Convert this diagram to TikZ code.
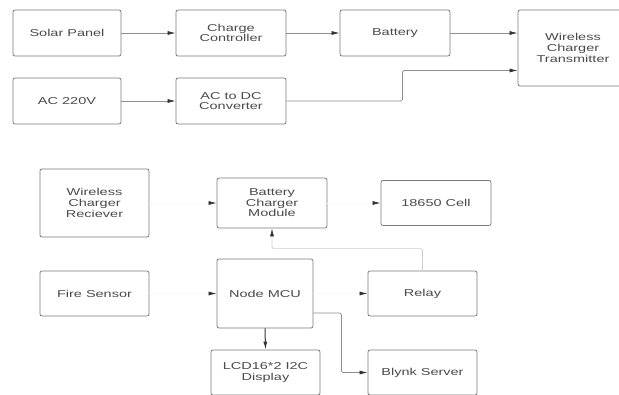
\documentclass[tikz,border=0pt]{standalone}
\usepackage{fontspec}
\setmainfont[FakeStretch=1.45]{Liberation Sans}
\usetikzlibrary{arrows.meta}
\definecolor{txt}{HTML}{4A4A4A}
\definecolor{tip}{HTML}{333333}
\definecolor{edge}{HTML}{7A7A7A}
\begin{document}
\begin{tikzpicture}[x=1pt,y=-1pt,
  blk/.style={draw=edge, line width=0.8pt, rounded corners=2pt, fill=white, text=txt, align=center, font=\fontsize{10}{10.6}\selectfont, inner sep=0pt},
  con/.style={draw=edge!85, line width=0.7pt, -{Latex[length=8pt,width=4pt,color=tip]}, rounded corners=1.5pt},
  faint/.style={con, draw=gray!5},
]
\useasboundingbox (0,0) rectangle (619,394);
\clip (0,0) rectangle (619,394);
% top
\node[blk, minimum width=108pt, minimum height=46pt] (sp) at (67,33) {Solar Panel};
\node[blk, minimum width=110pt, minimum height=46pt] (cc) at (231,33) {Charge\\Controller};
\node[blk, minimum width=110pt, minimum height=46pt] (bat) at (395,33) {Battery};
\node[blk, minimum width=110pt, minimum height=76pt] (wct) at (573,48) {Wireless\\Charger\\Transmitter};
\node[blk, minimum width=108pt, minimum height=46pt] (ac) at (67,101) {AC 220V};
\node[blk, minimum width=110pt, minimum height=46pt] (acdc) at (231,101) {AC to DC\\Converter};
% bottom
\node[blk, minimum width=109pt, minimum height=68pt] (wcr) at (94.5,203) {Wireless\\Charger\\Reciever};
\node[blk, minimum width=110pt, minimum height=50pt] (bcm) at (272,203) {Battery\\Charger\\Module};
\node[blk, minimum width=110pt, minimum height=45pt] (cell) at (436,203) {18650 Cell};
\node[blk, minimum width=109pt, minimum height=45pt] (fs) at (94.5,293.5) {Fire Sensor};
\node[blk, minimum width=96pt, minimum height=69pt] (mcu) at (265,293.5) {Node MCU};
\node[blk, minimum width=109pt, minimum height=45pt] (relay) at (422.5,293.5) {Relay};
\node[blk, minimum width=109pt, minimum height=45pt] (lcd) at (265.5,372.5) {LCD16*2 I2C\\Display};
\node[blk, minimum width=109pt, minimum height=45pt] (blynk) at (422.5,372.5) {Blynk Server};
% connectors top
\draw[con] (sp.east) -- (cc.west);
\draw[con] (cc.east) -- (bat.west);
\draw[con] (bat.east) -- (bat.east -| wct.west);
\draw[con] (ac.east) -- (acdc.west);
\draw[con] (acdc.east) -- ++(116,0) |- ([yshift=-22.5pt]wct.west);
% connectors bottom
\draw[faint] (wcr.east) -- (bcm.west);
\draw[faint] (bcm.east) -- (cell.west);
\draw[faint] (fs.east) -- (mcu.west);
\draw[faint] (mcu.east) -- (relay.west);
\draw[con, draw=gray!40] (relay.north) -- ++(0,-22) -| (bcm.south);
\draw[con, draw=tip, line width=1pt] (mcu.south) -- (lcd.north);
\draw[con] ([yshift=-19.5pt]mcu.east) -- ++(28,0) |- (blynk.west);
\end{tikzpicture}
\end{document}
